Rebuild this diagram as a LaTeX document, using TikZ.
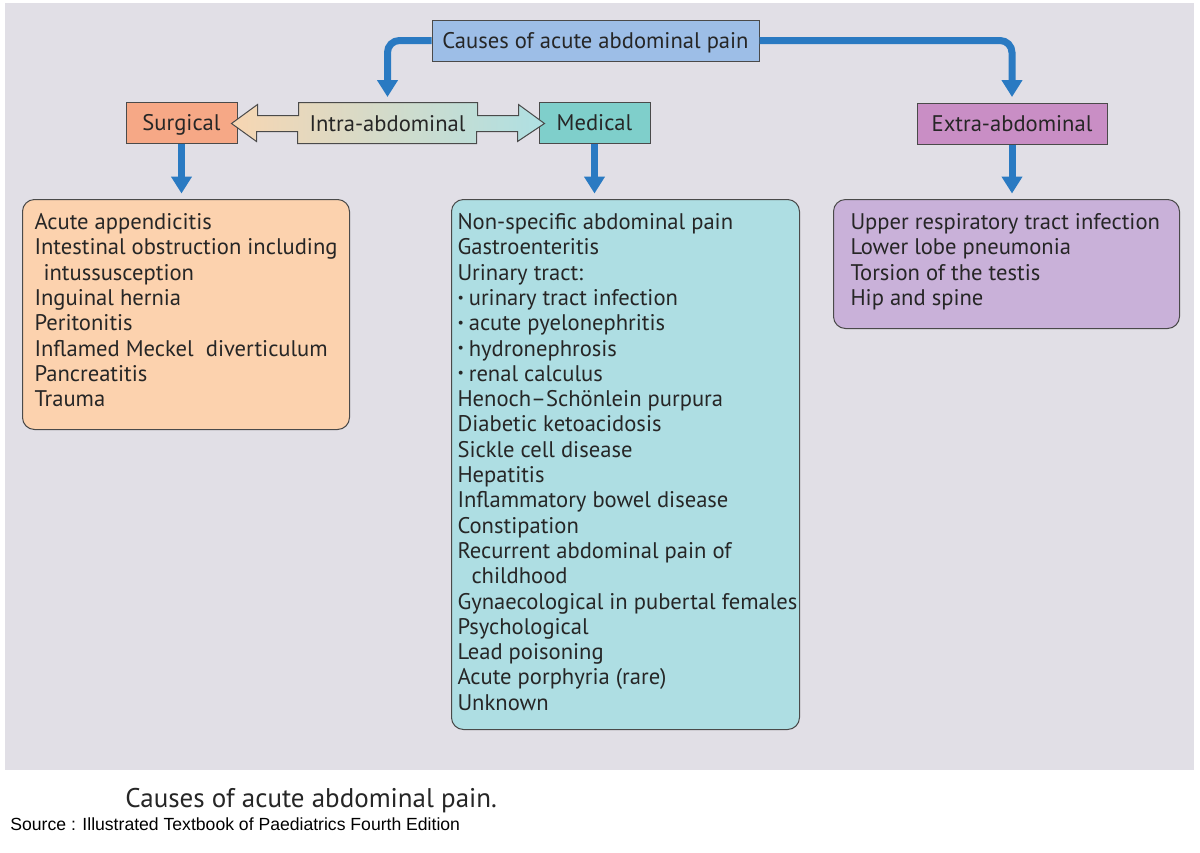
\documentclass[tikz,border=0pt]{standalone}
\usepackage{fontspec}
\setmainfont{PT Sans}
\newfontfamily\arialfont{Liberation Sans}
\usetikzlibrary{positioning,calc,arrows.meta}
\definecolor{panel}{HTML}{E1DFE6}
\definecolor{pathblue}{HTML}{2A7AC2}
\definecolor{causebox}{HTML}{9DBEE7}
\definecolor{surgbox}{HTML}{F6A886}
\definecolor{medbox}{HTML}{7FCFCB}
\definecolor{extrabox}{HTML}{C98EC5}
\definecolor{surglist}{HTML}{FCD2AE}
\definecolor{medlist}{HTML}{AEDEE3}
\definecolor{extralist}{HTML}{C9B1D9}
\definecolor{intraleft}{HTML}{F7D6B2}
\definecolor{intraright}{HTML}{AEE0E3}
\definecolor{edge}{HTML}{4A4A4A}
\newcommand\dotitem{\raisebox{0.3ex}{\fontsize{7}{7}\selectfont\textbullet}\hspace{2.5pt}}

\begin{document}
\begin{tikzpicture}[x=0.5pt,y=-0.5pt,
  every node/.style={font=\fontsize{11.3}{12.65}\selectfont, text=black!85},
  head/.style={draw=edge, line width=0.5pt, minimum height=20.5pt, inner sep=0pt, text height=10pt, text depth=2.5pt},
  list/.style={draw=edge, line width=0.5pt, rounded corners=6pt, anchor=north west, inner ysep=7pt},
  flow/.style={draw=pathblue, line width=3.5pt, rounded corners=6pt, -{Triangle[width=10pt,length=8.5pt]}, shorten >=2.75pt}]
\fill[white] (0,0) rectangle (1200,852);
\fill[panel] (5,3) rectangle (1194,770);
\useasboundingbox (0,0) rectangle (1200,852);

\node[head, fill=causebox, minimum width=163.5pt] (cause) at (595.5,40.5) {Causes of acute abdominal pain};
\node[head, fill=surgbox, minimum width=55.5pt] (surg) at (181.5,122.5) {Surgical};
\node[head, fill=medbox, minimum width=55.5pt] (med) at (594.5,122.5) {Medical};
\node[head, fill=extrabox, minimum width=95pt] (extra) at (1012,123.5) {Extra-abdominal};

\coordinate (ltip) at ($(surg.east)+(-6,1)$);
\coordinate (rtip) at ($(med.west)+(6,1)$);
\shade[draw=edge, line width=0.5pt, left color=intraleft, right color=intraright]
  (ltip) -- ++(26,-19) -- ++(0,11) -- ++(41,0) -- ++(0,-13) -- ++(179,0) -- ++(0,13) -- ++(41,0) -- ++(0,-11)
  -- (rtip) -- ++(-27,18) -- ++(0,-10) -- ++(-41,0) -- ++(0,12) -- ++(-179,0) -- ++(0,-12) -- ++(-41,0) -- ++(0,10) -- cycle;
\node[head, draw=none, minimum width=89.5pt] (intra) at (387.5,123.5) {Intra-abdominal};

\node[list, fill=surglist, inner xsep=6pt] (surglist) at (22,199) {\parbox[c][101pt][t]{151.5pt}{\raggedright
Acute appendicitis\\
Intestinal obstruction including\\
\hspace*{4.5pt}intussusception\\
Inguinal hernia\\
Peritonitis\\
Inflamed Meckel~ diverticulum\\
Pancreatitis\\
Trauma}};
\node[list, fill=medlist, inner xsep=3pt] (medlist) at (451,199) {\parbox[c][251pt][t]{168pt}{\raggedright
Non-specific abdominal pain\\
Gastroenteritis\\
Urinary tract:\\
\dotitem urinary tract infection\\
\dotitem acute pyelonephritis\\
\dotitem hydronephrosis\\
\dotitem renal calculus\\
Henoch–Schönlein purpura\\
Diabetic ketoacidosis\\
Sickle cell disease\\
Hepatitis\\
Inflammatory bowel disease\\
Constipation\\
Recurrent abdominal pain of\\
\hspace*{7pt}childhood\\
\mbox{Gynaecological in pubertal females}\\
Psychological\\
Lead poisoning\\
Acute porphyria (rare)\\
Unknown}};
\node[list, fill=extralist, inner xsep=8.5pt] (extralist) at (833,199) {\parbox[c][50.5pt][t]{156pt}{\raggedright
Upper respiratory tract infection\\
Lower lobe pneumonia\\
Torsion of the testis\\
Hip and spine}};

\draw[flow] (cause.west) -| (intra.north);
\draw[flow] (cause.east) -| (extra.north);
\draw[flow] (surg.south) -- (surg.south |- surglist.north);
\draw[flow] (med.south) -- (med.south |- medlist.north);
\draw[flow] (extra.south) -- (extra.south |- extralist.north);

\node[anchor=base west, inner sep=0pt, font=\fontsize{13.5}{16}\selectfont] (caption) at (125,807) {Causes of acute abdominal pain.};
\node[anchor=base west, inner sep=0pt, font=\arialfont\fontsize{8.8}{10}\selectfont, text=black] (source) at (10,830) {Source : Illustrated Textbook of Paediatrics Fourth Edition};
\end{tikzpicture}
\end{document}
